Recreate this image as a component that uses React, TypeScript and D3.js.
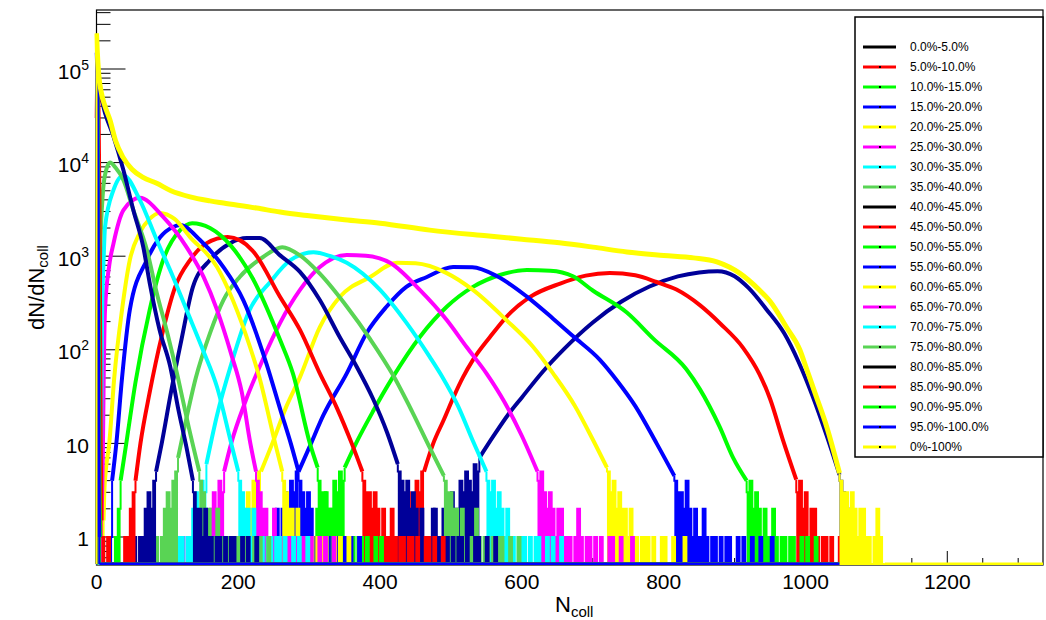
import React from "react";
import * as d3 from "d3";

type Pt = [number, number];

const W = 1046;
const H = 620;
const X0 = 96.5;
const X1 = 1043;
const Y0 = 10;
const Y1 = 565;
const N_MAX = 1335;
const V_MIN = 0.502;
const V_MAX = 4.27e5;
const BIN = 4;
const CLASS_END = 1065;

const classLabels = [
  "0.0%-5.0%", "5.0%-10.0%", "10.0%-15.0%", "15.0%-20.0%", "20.0%-25.0%",
  "25.0%-30.0%", "30.0%-35.0%", "35.0%-40.0%", "40.0%-45.0%", "45.0%-50.0%",
  "50.0%-55.0%", "55.0%-60.0%", "60.0%-65.0%", "65.0%-70.0%", "70.0%-75.0%",
  "75.0%-80.0%", "80.0%-85.0%", "85.0%-90.0%", "90.0%-95.0%", "95.0%-100.0%",
];
const totalLabel = "0%-100%";

const plotPalette = ["#000099", "#ff0000", "#00ff00", "#0000ff", "#ffff00", "#ff00ff", "#00ffff", "#59d454"];
const legendPalette = ["#000000", "#ff0000", "#00ff00", "#0000ff", "#ffff00", "#ff00ff", "#00ffff", "#59d454"];
const totalColor = "#ffff00";

const xMajorTicks = [0, 200, 400, 600, 800, 1000, 1200];
const yDecades = [0, 1, 2, 3, 4, 5];

// ---- body key points [Ncoll, dN/dNcoll] ----
const body00: Pt[] = [[540,7],[560,12],[580,20],[600,31],[630,59],[660,103],[700,196],[740,326],[780,474],[820,608],[850,670],[876,690],[900,610],[920,455],[945,270],[970,150],[990,75],[1010,32],[1030,12],[1048,4.6]];
const body05: Pt[] = [[462,5],[475,10],[490,18],[505,33],[517,51],[531,78],[555,137],[578,224],[611,365],[654,510],[690,620],[724,660],[760,625],[790,530],[818,440],[851,300],[880,190],[912,105],[935,55],[950,30],[968,11],[987,4.1]];
const body10: Pt[] = [[350,5.5],[366,10],[390,22],[418,51],[456,137],[494,288],[531,470],[569,630],[607,710],[640,700],[672,610],[700,430],[748,250],[786,130],[832,62],[851,38],[879,15],[898,7],[917,4]];
const body15: Pt[] = [[285,5],[300,9],[320,20],[353,56],[381,151],[409,288],[437,470],[466,600],[503,765],[530,760],[565,610],[607,370],[644,215],[672,140],[710,78],[734,47],[760,25],[790,10],[815,4.5]];
const body20: Pt[] = [[232,5],[248,10],[268,25],[287,51],[315,175],[343,366],[386,600],[424,850],[450,840],[494,660],[531,436],[578,208],[616,107],[644,56],[675,25],[700,11],[720,5.5]];
const body25: Pt[] = [[180,5],[190,10],[210,28],[235,80],[259,194],[287,436],[315,765],[353,1030],[380,1010],[414,850],[456,436],[494,208],[522,107],[550,56],[575,28],[600,12],[622,5]];
const body30: Pt[] = [[155,6],[170,20],[190,70],[216,267],[245,530],[273,900],[306,1100],[330,1000],[353,850],[400,436],[437,195],[470,84],[488,51],[510,25],[530,11],[550,5]];
const body35: Pt[] = [[115,7],[125,16],[140,50],[160,150],[179,340],[202,600],[235,980],[262,1250],[287,1020],[315,650],[353,290],[386,130],[418,54],[445,22],[470,9],[490,4.5]];
const body40: Pt[] = [[84,5],[92,10],[105,35],[120,130],[136,470],[160,910],[188,1370],[212,1560],[230,1560],[259,1020],[287,680],[315,340],[343,137],[367,66],[390,30],[410,13],[425,6]];
const body45: Pt[] = [[55,4],[62,10],[75,35],[92,140],[111,470],[132,910],[155,1370],[185,1600],[220,1150],[259,366],[287,163],[315,56],[339,24],[360,10],[375,5]];
const body50: Pt[] = [[34,4],[42,10],[55,45],[75,267],[94,910],[118,1900],[135,2250],[160,2000],[190,1280],[220,585],[259,127],[277,56],[301,10],[312,5.5]];
const body55: Pt[] = [[22,4],[28,10],[36,50],[47,267],[71,910],[90,1600],[108,2050],[118,2150],[146,1490],[179,765],[207,340],[240,70],[260,22],[274,10],[285,5]];
const body60: Pt[] = [[10,1.5],[11,3],[13,5],[18,10],[25,50],[36,267],[47,910],[61,1780],[75,2500],[89,2900],[110,2500],[132,1600],[170,765],[188,405],[210,150],[230,50],[252,10],[262,5]];
const body65: Pt[] = [[7,1.5],[8,3],[9,8],[10,40],[12,267],[18,800],[24,1370],[38,3100],[61,4200],[94,2630],[127,1250],[151,600],[170,267],[190,90],[205,35],[217,10],[225,5]];
const body70: Pt[] = [[5,1.5],[6,5],[7,40],[8,267],[10,900],[12,2050],[24,5100],[38,7300],[61,4000],[85,1490],[108,600],[127,267],[150,100],[170,40],[190,10],[200,5]];
const body75: Pt[] = [[3,2],[4,100],[5,910],[9,4760],[13,8000],[19,10000],[27,8800],[38,6500],[52,3100],[71,1170],[85,405],[100,150],[115,50],[130,15],[145,5]];
const body80: Pt[] = [[1,50000],[4,50000],[7,47000],[12,34000],[24,19000],[38,8300],[52,3100],[66,1250],[75,520],[89,163],[104,66],[115,24],[127,9],[136,4]];
const body85: Pt[] = [[0,30000],[1,60000],[2,60000],[3,30000],[4,5000],[5,300],[6,10],[7,1.5]];
const body90: Pt[] = [[0,80000],[1,80000],[2,20000],[3,500],[4,5],[5,1]];
const body95: Pt[] = [[0,150000],[1,100000],[2,1000],[3,5],[4,1]];
const bodyTotal: Pt[] = [[0,240000],[1,160000],[3,90000],[7,55000],[12,40000],[19,28500],[27,17000],[37,11500],[50,8500],[65,7000],[85,6000],[105,5000],[132,4300],[160,3900],[179,3700],[226,3270],[259,2960],[300,2700],[350,2450],[400,2250],[470,1900],[550,1650],[600,1520],[653,1390],[700,1250],[748,1110],[800,1020],[842,960],[875,870],[907,660],[935,435],[950,330],[973,175],[992,100],[1002,61],[1015,32],[1030,15],[1048,4.8]];

// ---- low-count tails (counts per 4-unit bin) ----
const tailL00 = [0,1,0,0,1,1,0,1,1,2,1,1,2,2,1,3,2,2,4,3,5,4,3,6,5];
const tailR00 = [4,3,2,2,1,1,0,1];
const tailL05 = [0,1,0,1,1,0,1,1,2,1,3,2,2,4,3,5];
const tailR05 = [3,4,2,3,1,2,2,1,0,1,1,0,1,0,0,1,0,1,0,0];
const tailL10 = [0,1,0,0,1,1,0,1,2,1,1,3,2,2,4,3,5,4];
const tailR10 = [3,4,2,3,2,1,2,1,1,2,1,0,1,1,0,1,1,0,0,1,0,1,0,0,1];
const tailL15 = [0,1,0,1,1,0,1,1,2,1,2,3,2,4,3,5];
const tailR15 = [4,3,3,2,4,2,1,2,1,1,2,1,0,1,1,0,1,0,1,1,0,0,1,0,1,0,0,1,0,0,1,0,0,0,1];
const tailL20 = [0,1,0,0,1,1,0,1,1,1,2,3,2,4,3,5];
const tailR20 = [5,3,4,2,3,2,2,1,2,1,1,0,1,1,1,0,1,0,0,1,1,0,0,1,0,0,0,1];
const tailL25 = [0,1,0,0,1,0,1,1,0,1,1,2,3,2,4,3];
const tailR25 = [4,5,3,2,3,2,1,2,2,1,1,1,0,1,2,1,0,1,1,0,1,0,1,0,0,1,1,0,0,1,0,0,0,1];
const tailL30 = [0,1,0,1,0,1,1,0,1,1,2,3,2,4,3];
const tailR30 = [4,3,4,2,3,2,1,2,1,1,0,1,1,1,0,1,0,1,1,0,0,1,0,1,0,0,1,0];
const tailL35 = [0,1,0,1,1,0,1,2,3,2,4,5];
const tailR35 = [4,3,3,2,2,1,2,1,1,1,0,2,1,0,1,1,0,1,0,1,1,0,0,1,0,0,1,0];
const tailL40 = [0,1,0,1,1,2,3,2,4];
const tailR40 = [5,4,3,4,2,3,2,1,2,1,1,1,2,1,0,1,1,1,0,1,0,1,1,0,1,0,0,1,1,0,0,1,0,0,1];
const tailL45 = [0,1,1,2,3];
const tailR45 = [4,3,3,2,3,2,1,2,1,1,2,1,0,1,1,0,1,1,0,1,0,0,1,1,0,1,0,0,1];
const tailL50 = [0,1,2];
const tailR50 = [4,3,3,2,2,1,1,0,1,1,1,0,1,0,1,1,0,1,0,0,1,0,1];
const tailL55 = [0,1];
const tailR55 = [4,3,2,3,2,1,1,1,0,1,1,0,1,1,0,0,1,0,1,0,0,1,0];
const tailR60 = [4,3,2,2,1,2,1,0,1,1,1,0,1,0,1,1,0,0,1,0,1,0,0,1];
const tailR65 = [4,3,2,2,1,1,2,1,1,0,1,1,1,0,1,0,1,1,0,1,0,0,1,0,1,0,0,1];
const tailR70 = [4,3,2,2,1,2,1,1,1,0,1,1,0,1,1,0,1,0,0,1,0,1,0,0,1];
const tailR75 = [4,3,2,2,1,1,2,1,1,0,1,1,0,1,1,0,1,0,0,1,0,1,0,0,1];
const tailR80 = [3,2,2,1,2,1,1,0,1,1,0,1,0,1,1,0,0,1,0,1,0,0,1];
const tailR85 = [1,0,1];
const tailRTotal = [4,3,3,2,3,2,1,2,2,1,1,0,1,2,1,0];

const bodies = [body00, body05, body10, body15, body20, body25, body30, body35, body40, body45, body50, body55, body60, body65, body70, body75, body80, body85, body90, body95];
const leftTails: number[][] = [tailL00, tailL05, tailL10, tailL15, tailL20, tailL25, tailL30, tailL35, tailL40, tailL45, tailL50, tailL55, [], [], [], [], [], [], [], []];
const rightTails: number[][] = [tailR00, tailR05, tailR10, tailR15, tailR20, tailR25, tailR30, tailR35, tailR40, tailR45, tailR50, tailR55, tailR60, tailR65, tailR70, tailR75, tailR80, tailR85, [], []];

const FONT = "'Liberation Sans', Arial, Helvetica, sans-serif";

function leftTailPts(body: Pt[], counts: number[]): Pt[] {
  const start = body[0][0] - BIN * counts.length;
  const pts: Pt[] = [[start, 0]];
  counts.forEach((c, i) => pts.push([start + BIN * i, c]));
  pts.push([body[0][0], body[0][1]]);
  return pts;
}

function rightTailPts(body: Pt[], counts: number[]): Pt[] {
  const [n0, v0] = body[body.length - 1];
  const pts: Pt[] = [[n0, v0]];
  counts.forEach((c, i) => pts.push([n0 + BIN * i, c]));
  pts.push([n0 + BIN * counts.length, 0]);
  return pts;
}

export default function App() {
  const x = d3.scaleLinear().domain([0, N_MAX]).range([X0, X1]);
  const y = d3.scaleLog().domain([V_MIN, V_MAX]).range([Y1, Y0]);
  const yv = (v: number) => (v > 0 ? y(v) : Y1 - 1);
  const bodyLine = d3.line<Pt>().x((d) => x(d[0])).y((d) => yv(d[1])).curve(d3.curveMonotoneX);
  const stepLine = d3.line<Pt>().x((d) => x(d[0])).y((d) => yv(d[1])).curve(d3.curveStepAfter);
  const stepArea = d3.area<Pt>().x((d) => x(d[0])).y0(Y1).y1((d) => yv(d[1])).curve(d3.curveStepAfter);

  const yTicks: { v: number; major: boolean }[] = [];
  for (let e = -1; e <= 5; e++) {
    for (let k = 1; k <= 9; k++) {
      const v = k * Math.pow(10, e);
      if (v >= V_MIN && v <= V_MAX) yTicks.push({ v, major: k === 1 });
    }
  }
  const xTicks: { n: number; major: boolean }[] = [];
  for (let n = 0; n <= N_MAX; n += 50) xTicks.push({ n, major: n % 200 === 0 });

  const hist = (body: Pt[], lt: number[], rt: number[], color: string, width: number, end: number, key: string) => {
    const lp = leftTailPts(body, lt);
    const rp = rightTailPts(body, rt);
    const rEnd = rp[rp.length - 1][0];
    const lpFill = lp.slice(0, lp.length - 1).concat([[body[0][0], 0]] as Pt[]);
    const rpFill = ([[rp[0][0], 0]] as Pt[]).concat(rp.slice(1));
    return (
      <g key={key}>
        <path d={stepLine([[0, 0], [lp[0][0], 0]]) || ""} fill="none" stroke={color} strokeWidth={3} />
        <path d={stepArea(lpFill) || ""} fill={color} stroke="none" />
        <path d={stepLine(lp) || ""} fill="none" stroke={color} strokeWidth={2} />
        <path d={bodyLine(body) || ""} fill="none" stroke={color} strokeWidth={width} strokeLinejoin="round" />
        <path d={stepArea(rpFill) || ""} fill={color} stroke="none" />
        <path d={stepLine(rp) || ""} fill="none" stroke={color} strokeWidth={2} />
        <path d={stepLine([[rEnd, 0], [end, 0]]) || ""} fill="none" stroke={color} strokeWidth={3} />
      </g>
    );
  };

  const legendEntries = [
    ...classLabels.map((l, i) => ({ label: l, color: legendPalette[i % 8] })),
    { label: totalLabel, color: totalColor },
  ];

  return (
    <svg width={W} height={H} style={{ position: "absolute", left: 0, top: 0, background: "#fff" }} fontFamily={FONT}>
      <defs>
        <clipPath id="frame">
          <rect x={X0 - 2} y={Y0} width={X1 - X0 + 2} height={Y1 - Y0} />
        </clipPath>
      </defs>
      <rect x={0} y={0} width={W} height={H} fill="#fff" />

      {/* ticks */}
      <g stroke="#000" strokeWidth={1}>
        {yTicks.map((t, i) => (
          <line key={"yt" + i} x1={X0} x2={X0 + (t.major ? 29 : 14)} y1={y(t.v)} y2={y(t.v)} />
        ))}
        {xTicks.map((t, i) => (
          <line key={"xt" + i} x1={x(t.n)} x2={x(t.n)} y1={Y1} y2={Y1 - (t.major ? 14 : 7)} />
        ))}
      </g>
      <rect x={X0} y={Y0} width={X1 - X0} height={Y1 - Y0} fill="none" stroke="#000" strokeWidth={1.2} />

      <g clipPath="url(#frame)">
        {bodies.map((b, i) => hist(b, leftTails[i], rightTails[i], plotPalette[i % 8], 4, CLASS_END, "h" + i))}
        {hist(bodyTotal, [], tailRTotal, totalColor, 5, N_MAX, "total")}
      </g>

      {/* y labels */}
      <g fontSize={21} fill="#000">
        {yDecades.map((e) => (
          <text key={"yl" + e} x={89} y={y(Math.pow(10, e)) + 9.5} textAnchor="end">
            {e === 0 ? "1" : e === 1 ? "10" : (
              <>
                <tspan>10</tspan>
                <tspan fontSize={14} dy={-9}>{String(e)}</tspan>
              </>
            )}
          </text>
        ))}
      </g>
      {/* x labels */}
      <g fontSize={21} fill="#000">
        {xMajorTicks.map((n) => (
          <text key={"xl" + n} x={x(n)} y={589} textAnchor="middle">{String(n)}</text>
        ))}
      </g>
      {/* axis titles */}
      <text x={555} y={612} fontSize={22}>
        N<tspan fontSize={15} dy={5}>coll</tspan>
      </text>
      <text transform="translate(44,330) rotate(-90)" fontSize={22}>
        dN/dN<tspan fontSize={15} dy={4}>coll</tspan>
      </text>

      {/* legend */}
      <rect x={855} y={17} width={188} height={440} fill="#fff" stroke="#000" strokeWidth={1.5} />
      {legendEntries.map((e, i) => {
        const cy = 47 + i * 20;
        return (
          <g key={"lg" + i}>
            <line x1={863} x2={896} y1={cy} y2={cy} stroke={e.color} strokeWidth={3} />
            <rect x={879} y={cy - 1} width={2} height={2} fill="#000" />
            <text x={910} y={cy + 4.3} fontSize={12} fill="#000">{e.label}</text>
          </g>
        );
      })}
    </svg>
  );
}
